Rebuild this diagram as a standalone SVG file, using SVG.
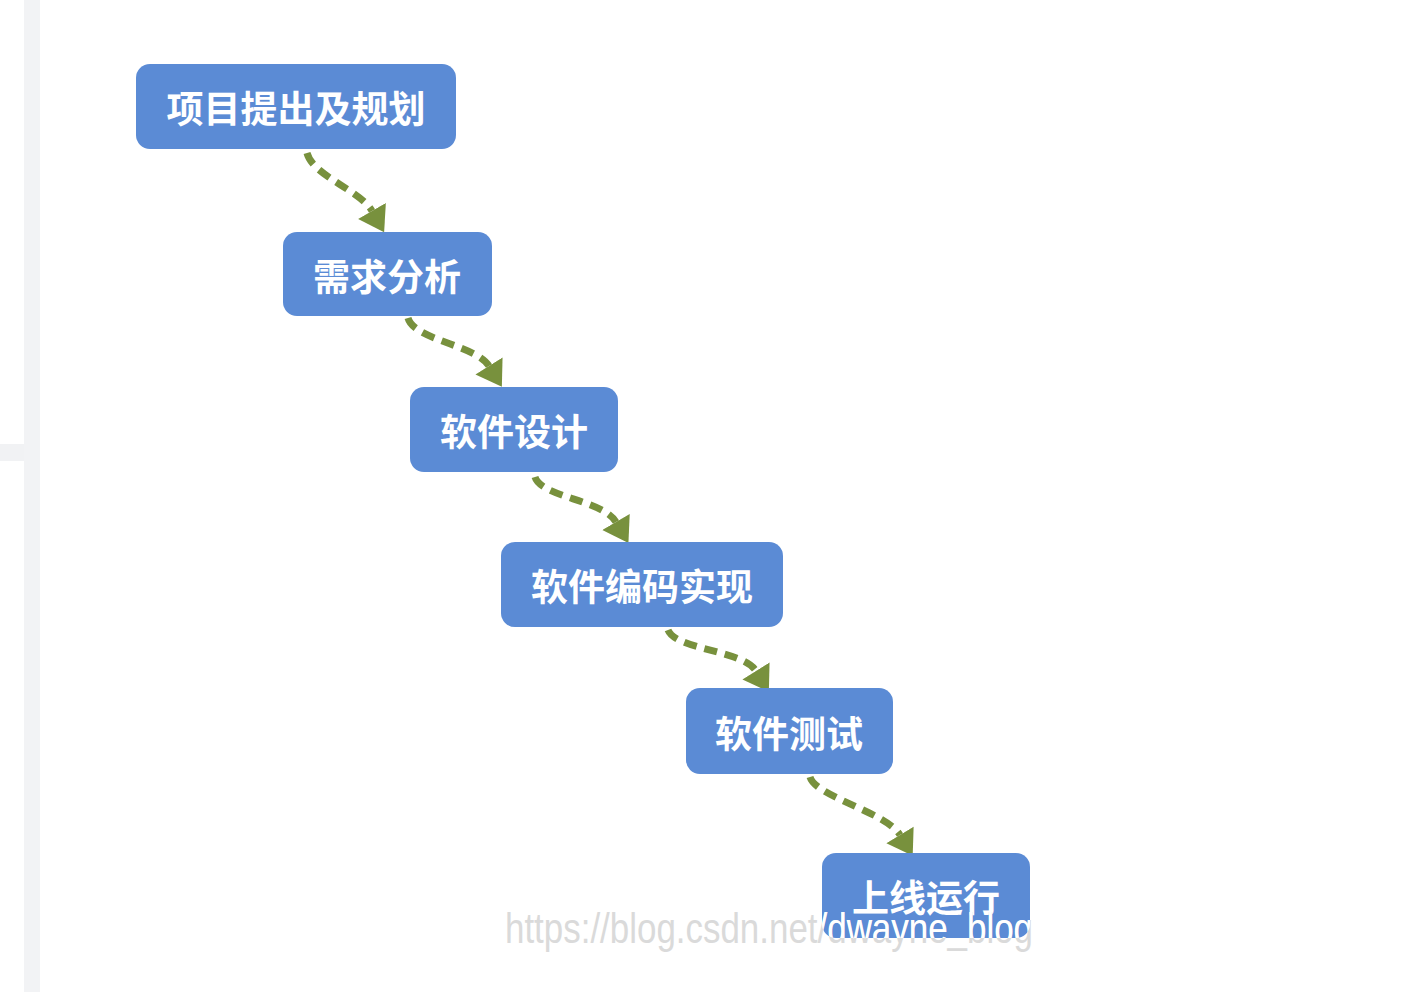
<svg xmlns="http://www.w3.org/2000/svg" width="1424" height="992" viewBox="0 0 1424 992">
  <style>
    .box { fill: #5b8bd5; }
    .lbl { fill: #ffffff; font-family: "Noto Sans CJK SC", "Noto Sans", sans-serif; font-size: 37px; font-weight: 700; text-anchor: middle; }
    .edge { fill: none; stroke: #78913d; stroke-width: 7; stroke-dasharray: 13 8; }
    .wm { font-family: "Liberation Sans", Arial, sans-serif; font-size: 43px; }
  </style>
  <defs>
    <marker id="arrow" markerUnits="userSpaceOnUse" markerWidth="26" markerHeight="34" viewBox="0 -16 24 32" refX="0" refY="0" orient="auto">
      <path d="M0,-15 L23,0 L0,15 Z" fill="#78913d"/>
    </marker>
    <clipPath id="lastbox">
      <rect x="822" y="853" width="208" height="85" rx="14"/>
    </clipPath>
  </defs>
  <rect width="1424" height="992" fill="#ffffff"/>
  <g id="sidebar">
    <rect x="24" y="0" width="16" height="992" fill="#f2f3f5"/>
    <rect x="0" y="444" width="24" height="17" fill="#f1f2f4"/>
  </g>
  <g id="connectors">
    <path class="edge" d="M307,153 C313,176 360,190 372,211" marker-end="url(#arrow)"/>
    <path class="edge" d="M408,318 C414,340 476,345 489,366" marker-end="url(#arrow)"/>
    <path class="edge" d="M535,477 C541,497 603,500 616,522" marker-end="url(#arrow)"/>
    <path class="edge" d="M668,630 C676,650 743,650 756,671" marker-end="url(#arrow)"/>
    <path class="edge" d="M810,777 C816,797 886,812 900,835" marker-end="url(#arrow)"/>
  </g>
  <g id="n1">
    <rect class="box" x="136" y="64" width="320" height="85" rx="14"/>
    <text class="lbl" x="296" y="123">项目提出及规划</text>
  </g>
  <g id="n2">
    <rect class="box" x="283" y="232" width="209" height="84" rx="14"/>
    <text class="lbl" x="387" y="291">需求分析</text>
  </g>
  <g id="n3">
    <rect class="box" x="410" y="387" width="208" height="85" rx="14"/>
    <text class="lbl" x="514" y="446">软件设计</text>
  </g>
  <g id="n4">
    <rect class="box" x="501" y="542" width="282" height="85" rx="14"/>
    <text class="lbl" x="642" y="601">软件编码实现</text>
  </g>
  <g id="n5">
    <rect class="box" x="686" y="688" width="207" height="86" rx="14"/>
    <text class="lbl" x="789" y="748">软件测试</text>
  </g>
  <g id="n6">
    <rect class="box" x="822" y="853" width="208" height="85" rx="14"/>
    <text class="lbl" x="926" y="912">上线运行</text>
  </g>
  <g id="watermark">
    <text class="wm" x="505" y="943" textLength="528" lengthAdjust="spacingAndGlyphs" fill="#dadada">https://blog.csdn.net/dwayne_blog</text>
    <text class="wm" x="505" y="943" textLength="528" lengthAdjust="spacingAndGlyphs" fill="#ffffff" clip-path="url(#lastbox)">https://blog.csdn.net/dwayne_blog</text>
  </g>
</svg>
